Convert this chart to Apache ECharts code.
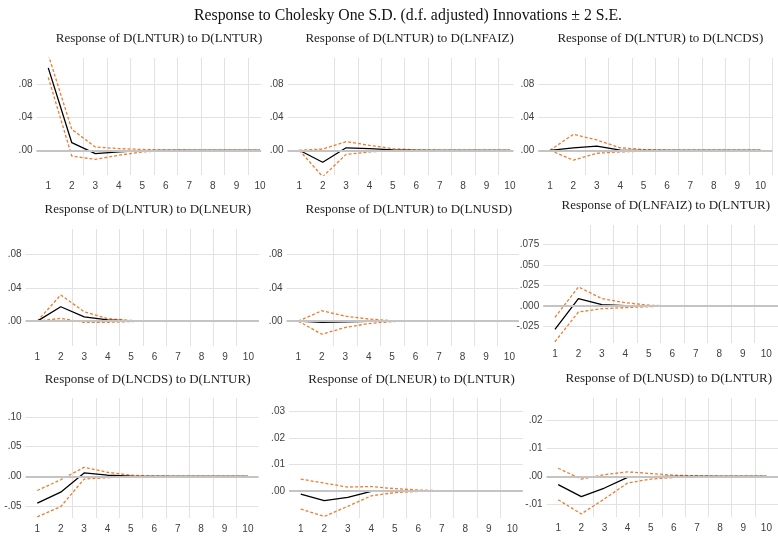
<!DOCTYPE html>
<html>
<head>
<meta charset="utf-8">
<script src="https://cdn.jsdelivr.net/npm/echarts@6/dist/echarts.min.js"></script>
<style>
  html, body { margin: 0; padding: 0; background: #fff; }
  #chart { width: 778px; height: 536px; }
</style>
</head>
<body>
<div id="chart"></div>
<script>
  // periods
  var periods = [1, 2, 3, 4, 5, 6, 7, 8, 9, 10];
  // boundaries between periods (vertical grid lines)
  var bounds = [1.5, 2.5, 3.5, 4.5, 5.5, 6.5, 7.5, 8.5, 9.5, 10.5];

  // Response of D(LNTUR) to D(LNTUR)
  var r1 = [0.100, 0.0092, -0.004, -0.002, -0.0005, 0, 0, 0, 0, 0];
  var u1 = [0.116, 0.0255, 0.004, 0.002, 0.001, 0.0003, 0, 0, 0, 0];
  var l1 = [0.0885, -0.007, -0.011, -0.006, -0.002, -0.0005, 0, 0, 0, 0];

  // Response of D(LNTUR) to D(LNFAIZ)
  var r2 = [0, -0.0145, 0.003, 0.002, 0.0005, 0, 0, 0, 0, 0];
  var u2 = [0, 0.0015, 0.0105, 0.006, 0.002, 0.0005, 0, 0, 0, 0];
  var l2 = [0, -0.032, -0.005, -0.002, -0.0005, 0, 0, 0, 0, 0];

  // Response of D(LNTUR) to D(LNCDS)
  var r3 = [0, 0.003, 0.005, 0.0003, 0, 0, 0, 0, 0, 0];
  var u3 = [0, 0.0194, 0.0125, 0.003, 0.001, 0, 0, 0, 0, 0];
  var l3 = [0, -0.012, -0.0036, -0.002, -0.001, 0, 0, 0, 0, 0];

  // Response of D(LNTUR) to D(LNEUR)
  var r4 = [0, 0.0173, 0.0052, 0.0015, 0.0003, 0, 0, 0, 0, 0];
  var u4 = [0, 0.0315, 0.0113, 0.003, 0.0008, 0, 0, 0, 0, 0];
  var l4 = [0, 0.0033, -0.0016, -0.0015, -0.0005, 0, 0, 0, 0, 0];

  // Response of D(LNTUR) to D(LNUSD)
  var r5 = [0, -0.0015, -0.001, -0.0003, 0, 0, 0, 0, 0, 0];
  var u5 = [0, 0.0125, 0.006, 0.0025, 0.0005, 0, 0, 0, 0, 0];
  var l5 = [0, -0.0158, -0.0077, -0.003, -0.0005, 0, 0, 0, 0, 0];

  // Response of D(LNFAIZ) to D(LNTUR)
  var r6 = [-0.0284, 0.009, 0.0017, 0.0005, 0, 0, 0, 0, 0, 0];
  var u6 = [-0.0138, 0.0232, 0.009, 0.004, 0.001, 0, 0, 0, 0, 0];
  var l6 = [-0.0435, -0.0073, -0.0032, -0.002, -0.0007, 0, 0, 0, 0, 0];

  // Response of D(LNCDS) to D(LNTUR)
  var r7 = [-0.045, -0.0265, 0.0058, 0.002, 0.0005, 0, 0, 0, 0, 0];
  var u7 = [-0.0237, -0.0056, 0.0153, 0.007, 0.002, 0.0005, 0, 0, 0, 0];
  var l7 = [-0.068, -0.051, -0.0045, -0.002, -0.0008, 0, 0, 0, 0, 0];

  // Response of D(LNEUR) to D(LNTUR)
  var r8 = [-0.00126, -0.0037, -0.0025, -0.0002, 0, 0, 0, 0, 0, 0];
  var u8 = [0.0044, 0.0029, 0.0014, 0.0016, 0.0008, 0.0003, 0, 0, 0, 0];
  var l8 = [-0.0069, -0.0097, -0.0059, -0.0019, -0.0007, -0.0002, 0, 0, 0, 0];

  // Response of D(LNUSD) to D(LNTUR)
  var r9 = [-0.003, -0.0073, -0.0042, -0.0004, -0.0001, 0, 0, 0, 0, 0];
  var u9 = [0.0029, -0.001, 0.0006, 0.0016, 0.001, 0.0004, 0.0002, 0, 0, 0];
  var l9 = [-0.0084, -0.0135, -0.0081, -0.0024, -0.001, -0.0004, 0, 0, 0, 0];

  // y tick values
  var ticksA = [0, 0.04, 0.08];
  var ticks6 = [-0.025, 0, 0.025, 0.05, 0.075];
  var ticks7 = [-0.05, 0, 0.05, 0.10];
  var ticks8 = [0, 0.01, 0.02, 0.03];
  var ticks9 = [-0.01, 0, 0.01, 0.02];

  var mainTitle = 'Response to Cholesky One S.D. (d.f. adjusted) Innovations \u00b1 2 S.E.';

  // box: [left, top, px per period, height], xmax: where the panel is cut on the right
  var panels = [
    { title: 'Response of D(LNTUR) to D(LNTUR)', r: r1, u: u1, l: l1, ticks: ticksA, dec: 2, min: -0.030, max: 0.112, box: [36.5, 58, 23.52, 117], xmax: 10.05, tt: 31 },
    { title: 'Response of D(LNTUR) to D(LNFAIZ)', r: r2, u: u2, l: l2, ticks: ticksA, dec: 2, min: -0.030, max: 0.112, box: [287.6, 58, 23.4, 117], xmax: 10.15, tt: 31 },
    { title: 'Response of D(LNTUR) to D(LNCDS)', r: r3, u: u3, l: l3, ticks: ticksA, dec: 2, min: -0.030, max: 0.112, box: [538.3, 58, 23.4, 117], xmax: 10.5, tt: 31 },
    { title: 'Response of D(LNTUR) to D(LNEUR)', r: r4, u: u4, l: l4, ticks: ticksA, dec: 2, min: -0.030, max: 0.111, box: [25.6, 229, 23.45, 117], xmax: 10.45, tt: 31 },
    { title: 'Response of D(LNTUR) to D(LNUSD)', r: r5, u: u5, l: l5, ticks: ticksA, dec: 2, min: -0.030, max: 0.111, box: [286.6, 229, 23.45, 117], xmax: 10.4, tt: 31 },
    { title: 'Response of D(LNFAIZ) to D(LNTUR)', r: r6, u: u6, l: l6, ticks: ticks6, dec: 3, min: -0.045, max: 0.0986, box: [543.2, 225, 23.52, 118], xmax: 10.5, tt: 31 },
    { title: 'Response of D(LNCDS) to D(LNTUR)', r: r7, u: u7, l: l7, ticks: ticks7, dec: 2, min: -0.070, max: 0.132, box: [25.6, 398, 23.4, 120], xmax: 10.45, tt: 30 },
    { title: 'Response of D(LNEUR) to D(LNTUR)', r: r8, u: u8, l: l8, ticks: ticks8, dec: 2, min: -0.0103, max: 0.0351, box: [289, 398, 23.5, 120], xmax: 10.45, tt: 30 },
    { title: 'Response of D(LNUSD) to D(LNTUR)', r: r9, u: u9, l: l9, ticks: ticks9, dec: 2, min: -0.0146, max: 0.0281, box: [546.6, 398, 23.45, 119], xmax: 10.5, tt: 31 }
  ];

  var serif = '"Liberation Serif", "Times New Roman", serif';
  var sans = '"Liberation Sans", Arial, sans-serif';

  var titles = [{
    text: mainTitle,
    left: 403,
    top: 3,
    textAlign: 'center',
    textStyle: { fontFamily: serif, fontSize: 15.8, fontWeight: 'normal', color: '#111' }
  }];
  var grids = [], xAxes = [], yAxes = [], series = [];

  function pairs(vals) {
    return periods.map(function (x, k) { return [x, vals[k]]; });
  }

  panels.forEach(function (p, i) {
    var b = p.box;
    var sp = b[2];
    titles.push({
      text: p.title,
      left: b[0] + sp * 5,
      top: b[1] - p.tt,
      textAlign: 'center',
      textStyle: { fontFamily: serif, fontSize: 13, fontWeight: 'normal', color: '#222' }
    });
    grids.push({ left: b[0], top: b[1], width: sp * (p.xmax - 0.5), height: b[3], containLabel: false });
    xAxes.push({
      type: 'value',
      gridIndex: i,
      min: 0.5,
      max: p.xmax,
      axisLine: { show: false },
      axisTick: { show: false, customValues: bounds },
      axisLabel: {
        customValues: periods,
        margin: 6,
        fontFamily: sans,
        fontSize: 10,
        color: '#404040',
        formatter: function (v) { return String(Math.round(v)); }
      },
      splitLine: { show: true, showMinLine: false, showMaxLine: true, lineStyle: { color: '#e2e2e2', width: 1 } }
    });
    yAxes.push({
      type: 'value',
      gridIndex: i,
      min: p.min,
      max: p.max,
      axisLine: { show: false },
      axisTick: { show: false, customValues: p.ticks },
      axisLabel: {
        customValues: p.ticks,
        margin: 4,
        fontFamily: sans,
        fontSize: 10,
        color: '#404040',
        formatter: function (v) {
          return v.toFixed(p.dec).replace('0.', '.');
        }
      },
      splitLine: { show: true, showMinLine: true, showMaxLine: true, lineStyle: { color: '#e2e2e2', width: 1 } }
    });
    // zero line
    series.push({
      type: 'line',
      xAxisIndex: i,
      yAxisIndex: i,
      data: [],
      z: 1,
      silent: true,
      markLine: {
        silent: true,
        symbol: 'none',
        label: { show: false },
        lineStyle: { color: '#c4c4c4', type: 'solid', width: 2 },
        data: [{ yAxis: 0 }]
      }
    });
    series.push({
      type: 'line',
      xAxisIndex: i,
      yAxisIndex: i,
      data: pairs(p.r),
      z: 3,
      symbol: 'none',
      lineStyle: { color: '#000', width: 1.3 }
    });
    [p.u, p.l].forEach(function (band) {
      series.push({
        type: 'line',
        xAxisIndex: i,
        yAxisIndex: i,
        data: pairs(band),
        z: 2,
        symbol: 'none',
        lineStyle: { color: '#ed7d31', width: 1.3, type: [3, 2] }
      });
    });
  });

  var chart = echarts.init(document.getElementById('chart'), null, { renderer: 'canvas' });
  chart.setOption({
    animation: false,
    backgroundColor: '#fff',
    title: titles,
    grid: grids,
    xAxis: xAxes,
    yAxis: yAxes,
    series: series
  });
</script>
</body>
</html>
